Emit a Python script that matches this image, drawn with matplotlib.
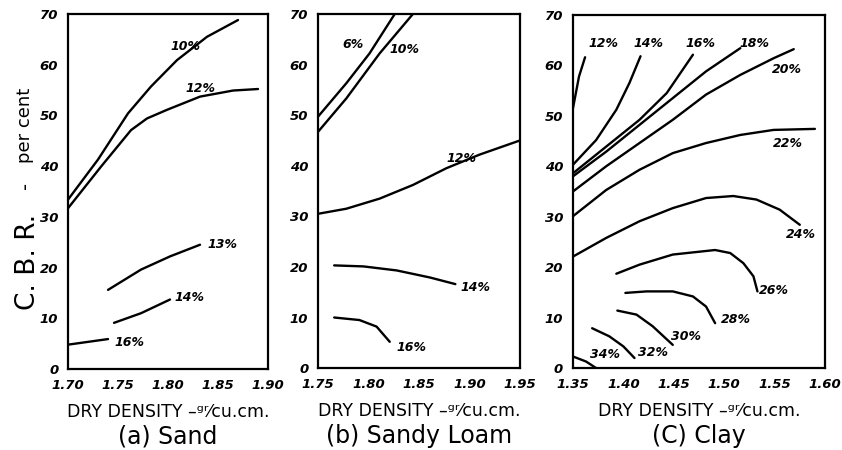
import matplotlib
matplotlib.use('Agg')
import matplotlib.pyplot as plt

# CBR vs dry density, contours of moisture content, three soils

# (a) Sand
sand_labels = ['10%', '12%', '13%', '14%', '16%']
sand_x = [[1.700, 1.730, 1.760, 1.783, 1.809, 1.839, 1.870],
          [1.700, 1.733, 1.763, 1.779, 1.799, 1.832, 1.865, 1.890],
          [1.740, 1.773, 1.802, 1.832],
          [1.746, 1.773, 1.802],
          [1.700, 1.740]]
sand_y = [[33.4, 41.3, 50.4, 55.7, 60.9, 65.5, 68.8],
          [31.7, 39.9, 47.1, 49.4, 51.1, 53.7, 54.9, 55.2],
          [15.6, 19.6, 22.2, 24.5],
          [9.1, 11.0, 13.7],
          [4.8, 5.9]]
sand_label_x = [1.817, 1.832, 1.854, 1.821, 1.761]
sand_label_y = [63.5, 55.3, 24.5, 14.0, 5.3]

# (b) Sandy loam
loam_labels = ['6%', '10%', '12%', '14%', '16%']
loam_x = [[1.750, 1.778, 1.801, 1.826],
          [1.750, 1.778, 1.811, 1.844],
          [1.750, 1.778, 1.811, 1.844, 1.877, 1.910, 1.950],
          [1.766, 1.795, 1.828, 1.861, 1.886],
          [1.766, 1.791, 1.808, 1.821]]
loam_y = [[49.7, 56.3, 62.2, 70.0],
          [46.7, 53.3, 62.2, 70.0],
          [30.5, 31.5, 33.5, 36.2, 39.5, 42.2, 45.0],
          [20.3, 20.1, 19.3, 17.9, 16.6],
          [10.0, 9.5, 8.2, 5.2]]
loam_label_x = [1.785, 1.836, 1.892, 1.906, 1.843]
loam_label_y = [64.0, 63.0, 41.5, 16.0, 4.0]

# (c) Clay
clay_labels = ['12%', '14%', '16%', '18%', '20%', '22%', '24%', '26%', '28%', '30%', '32%', '34%']
clay_x = [[1.350, 1.356, 1.362],
          [1.350, 1.373, 1.393, 1.406, 1.417],
          [1.350, 1.383, 1.416, 1.443, 1.469],
          [1.350, 1.383, 1.416, 1.449, 1.482, 1.516],
          [1.350, 1.383, 1.416, 1.449, 1.482, 1.516, 1.549, 1.569],
          [1.350, 1.383, 1.416, 1.449, 1.482, 1.516, 1.549, 1.590],
          [1.350, 1.383, 1.416, 1.449, 1.482, 1.509, 1.532, 1.555, 1.575],
          [1.393, 1.416, 1.449, 1.491, 1.506, 1.519, 1.529, 1.533],
          [1.402, 1.423, 1.449, 1.469, 1.482, 1.491],
          [1.394, 1.413, 1.429, 1.449],
          [1.369, 1.386, 1.400, 1.411],
          [1.350, 1.363, 1.373]]
clay_y = [[51.5, 57.8, 61.6],
          [40.3, 45.2, 51.2, 56.5, 61.8],
          [38.6, 43.9, 49.2, 54.5, 62.1],
          [38.0, 42.9, 48.2, 53.5, 58.8, 63.4],
          [35.0, 40.0, 44.6, 49.2, 54.2, 58.1, 61.4, 63.2],
          [30.1, 35.3, 39.3, 42.6, 44.6, 46.2, 47.2, 47.4],
          [22.1, 25.8, 29.1, 31.7, 33.7, 34.1, 33.4, 31.4, 28.4],
          [18.7, 20.5, 22.5, 23.4, 22.8, 20.8, 18.2, 15.2],
          [14.9, 15.2, 15.2, 14.2, 12.2, 8.9],
          [11.4, 10.6, 8.3, 4.6],
          [7.9, 6.3, 4.3, 2.0],
          [2.3, 1.3, 0.0]]
clay_label_x = [1.380, 1.425, 1.476, 1.530, 1.562, 1.563, 1.576, 1.549, 1.512, 1.462, 1.429, 1.382]
clay_label_y = [64.4, 64.4, 64.4, 64.4, 59.2, 44.6, 26.4, 15.4, 9.6, 6.3, 3.1, 2.6]

panels = [
    ('(a) Sand', sand_labels, sand_x, sand_y, sand_label_x, sand_label_y,
     [1.70, 1.75, 1.80, 1.85, 1.90], [0.0808, 0.180, 0.2375, 0.789]),
    ('(b) Sandy Loam', loam_labels, loam_x, loam_y, loam_label_x, loam_label_y,
     [1.75, 1.80, 1.85, 1.90, 1.95], [0.3777, 0.182, 0.2399, 0.787]),
    ('(C) Clay', clay_labels, clay_x, clay_y, clay_label_x, clay_label_y,
     [1.35, 1.40, 1.45, 1.50, 1.55, 1.60], [0.6805, 0.182, 0.2993, 0.785]),
]
y_ticks = [0, 10, 20, 30, 40, 50, 60, 70]

fig = plt.figure(figsize=(8.42, 4.5), dpi=100)

for title, labels, xs, ys, lx, ly, xt, rect in panels:
    ax = fig.add_axes(rect)
    for x, y in zip(xs, ys):
        ax.plot(x, y, color='black', lw=1.7, solid_capstyle='round')
    for lab, tx, ty in zip(labels, lx, ly):
        ax.text(tx, ty, lab, ha='center', va='center', fontsize=9,
                style='italic', weight='bold')
    ax.set_xlim(xt[0], xt[-1])
    ax.set_ylim(0, 70)
    ax.set_xticks(xt)
    ax.set_xticklabels(['%.2f' % t for t in xt])
    ax.set_yticks(y_ticks)
    ax.tick_params(length=0, pad=7)
    for t in ax.get_xticklabels() + ax.get_yticklabels():
        t.set_fontsize(9.5)
        t.set_style('italic')
        t.set_weight('bold')
    for s in ax.spines.values():
        s.set_linewidth(1.6)
    ax.set_xlabel('DRY DENSITY –ᵍʳ⁄cu.cm.', fontsize=12.5, labelpad=8)
    x_mid = rect[0] + rect[2] / 2
    fig.text(x_mid, 0.030, title, ha='center', va='center', fontsize=17)

# rotated y label built from three pieces, like the hand lettering
fig.text(0.033, 0.418, 'C. B. R.', rotation=90, ha='center', va='center', fontsize=19)
fig.text(0.030, 0.589, '-', rotation=90, ha='center', va='center', fontsize=14)
fig.text(0.030, 0.722, 'per cent', rotation=90, ha='center', va='center', fontsize=13)

fig.savefig('out.png', dpi=100)
